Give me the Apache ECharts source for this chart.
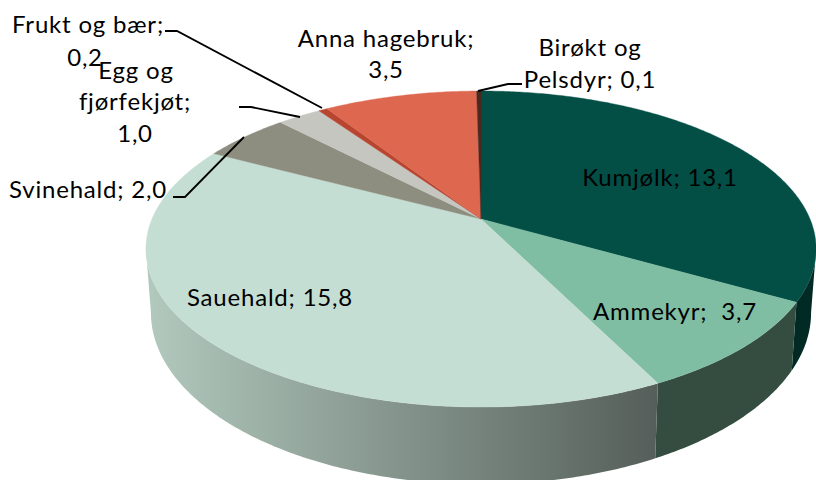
<!DOCTYPE html>
<html>
<head>
<meta charset="utf-8">
<style>html,body{margin:0;padding:0;background:#fff}#c{width:816px;height:480px}#c text{letter-spacing:.8px}</style>
<script src="https://cdn.jsdelivr.net/npm/echarts@6/dist/echarts.min.js"></script>
</head>
<body>
<div id="c"></div>
<script>
const categories = ['Kumjølk','Ammekyr','Sauehald','Svinehald','Egg og fjørfekjøt','Frukt og bær','Anna hagebruk','Birøkt og Pelsdyr'];
const values = [13.1,3.7,15.8,2.0,1.0,0.2,3.5,0.1];
const labelLines = [['Kumjølk; 13,1'],['Ammekyr;  3,7'],['Sauehald; 15,8'],['Svinehald; 2,0'],['Egg og','fjørfekjøt;','1,0'],['Frukt og bær;','0,2'],['Anna hagebruk;','3,5'],['Birøkt og','Pelsdyr; 0,1']];
const topColors = ['#034f46','#80bea3','#c5ded3','#8d8e80','#c5c6bf','#b8452f','#dd674f','#4a2a20'];
const wallColors = [['#012a25','#012a25'],['#344d40','#344d40'],['#b2c9bd','#555e5a'],['#6b6c60','#6b6c60'],['#999999','#999999'],['#8a3322','#8a3322'],['#a84c3a','#a84c3a'],['#33201a','#33201a']];
const labelPlaces = [[[660,176]],[[675,310]],[[270,296]],[[88,188]],[[136,69],[135,100],[135,132]],[[88,23],[85,56]],[[386,37],[386,68]],[[590,46],[590,78]]];
const leaders = [null,null,null,
  [[173,197],[185,197],[244,137]],
  [[239,107],[251,107],[300,117]],
  [[165,31],[177,31],[322,108]],
  null,
  [[522,84],[508,84],[478,91]]];

// Perspective of the pie disc: apex, radii and tilt of the top face and wall foot.
const P = {cx:481, cy:219, R:329, S:152.3, k:0.19, footDy:61, footRx:0.985, footRy:1.086};
const total = values.reduce((a,b)=>a+b,0);
function pt(theta, foot){
  const w = 1 + P.k*Math.cos(theta);
  const sx = foot ? P.footRx : 1, sy = foot ? P.footRy : 1;
  return [P.cx + sx*P.R*Math.sin(theta)/w, P.cy + (foot?P.footDy:0) - sy*P.S*Math.cos(theta)/w];
}
function arc(a,b,foot){
  const n = Math.max(2,Math.ceil(Math.abs(b-a)/0.01)), out=[];
  for(let i=0;i<=n;i++) out.push(pt(a+(b-a)*i/n,foot));
  return out;
}
const starts=[]; values.reduce((s,v)=>{starts.push(s);return s+v;},0);
const frontEnd = Math.PI*1.5 - Math.asin(P.k);
const backStart = Math.PI/2 + Math.asin(P.k);

function renderWall(params, api){
  const i = api.value(0), a = starts[i]/total*2*Math.PI, b = (starts[i]+values[i])/total*2*Math.PI;
  const lo = Math.max(a, backStart), hi = Math.min(b, frontEnd);
  if(hi<=lo) return {type:'group',children:[]};
  return {type:'polygon',shape:{points:arc(lo,hi,false).concat(arc(hi,lo,true))},style:{
    fill:new echarts.graphic.LinearGradient(0,0,1,0,[{offset:0,color:wallColors[i][0]},{offset:1,color:wallColors[i][1]}])}};
}
function renderTop(params, api){
  const i = api.value(0), a = starts[i]/total*2*Math.PI, b = (starts[i]+values[i])/total*2*Math.PI;
  return {type:'polygon',shape:{points:[[P.cx,P.cy]].concat(arc(a,b,false))},
    style:{fill:topColors[i],stroke:topColors[i],lineWidth:0.4}};
}
function renderLabel(params, api){
  const i = api.value(0), ch=[];
  labelLines[i].forEach((t,j)=>ch.push({type:'text',x:labelPlaces[i][j][0],y:labelPlaces[i][j][1],
    style:{text:t,fill:'#000',font:'24px Lato, sans-serif',align:'center',verticalAlign:'middle'}}));
  if(leaders[i]) ch.push({type:'polyline',shape:{points:leaders[i]},style:{stroke:'#000',lineWidth:1.8,fill:null}});
  return {type:'group',children:ch};
}
const rows = values.map((v,i)=>[i,v,categories[i]]);
const chart = echarts.init(document.getElementById('c'),null,{renderer:'svg'});
chart.setOption({
  animation:false,
  backgroundColor:'#fff',
  series:[
    {type:'custom',coordinateSystem:'none',renderItem:renderWall,data:rows,silent:true},
    {type:'custom',coordinateSystem:'none',renderItem:renderTop,data:rows,silent:true},
    {type:'custom',coordinateSystem:'none',renderItem:renderLabel,data:rows,silent:true}
  ]
});
</script>
</body>
</html>
